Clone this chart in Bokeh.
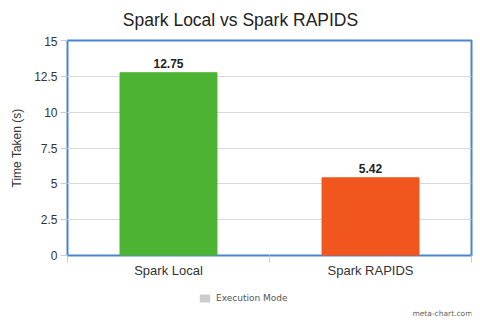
from bokeh.plotting import figure
from bokeh.layouts import column
from bokeh.models import (Range1d, FixedTicker, Legend, LegendItem, Label,
                          ColumnDataSource, LabelSet)
from bokeh.core.properties import value
from bokeh.embed import file_html
from bokeh.resources import INLINE

title_text = "Spark Local vs Spark RAPIDS"
categories = ["Spark Local", "Spark RAPIDS"]
values = [12.75, 5.42]
value_labels = ["12.75", "5.42"]
colors = ["#4db332", "#f0561d"]
y_ticks = [0, 2.5, 5, 7.5, 10, 12.5, 15]
y_tick_labels = ["0", "2.5", "5", "7.5", "10", "12.5", "15"]
series_name = "Execution Mode"
credit = "meta-chart.com"

FONT = "Liberation Sans"

positions = [i + 0.5 for i in range(len(categories))]
src = ColumnDataSource(dict(x=positions, top=values, color=colors, lbl=value_labels))

# header strip with the title (frame aligned with chart frame: 67..471 px)
h = figure(width=480, height=36, output_backend="svg", toolbar_location=None,
           x_range=Range1d(67, 471), y_range=Range1d(0, 36),
           min_border_left=67, min_border_right=9, min_border_top=0,
           min_border_bottom=0, outline_line_color=None)
h.axis.visible = False
h.grid.visible = False
h.add_layout(Label(x=240, y=17, text=title_text, text_align="center",
                   text_baseline="alphabetic", text_font=FONT,
                   text_font_size="17.5px", text_color="#222222"))

p = figure(width=480, height=244, output_backend="svg", toolbar_location=None,
           x_range=Range1d(0, len(categories)), y_range=Range1d(0, 15),
           min_border_left=67, min_border_right=9, min_border_top=4,
           min_border_bottom=24)

p.outline_line_color = "#4a86d0"
p.outline_line_width = 2
p.background_fill_color = "white"
p.border_fill_color = "white"

p.vbar(x="x", top="top", width=0.48, color="color", source=src)

p.add_layout(LabelSet(x="x", y="top", text="lbl", source=src, text_align="center",
                      text_baseline="bottom", y_offset=5,
                      text_font=value(FONT), text_font_size=value("12px"),
                      text_font_style="bold", text_color="#222222"))

# y axis
p.yaxis.ticker = FixedTicker(ticks=y_ticks)
p.yaxis.major_label_overrides = {t: l for t, l in zip(y_ticks, y_tick_labels)}
p.yaxis.axis_line_color = None
p.yaxis.major_tick_line_color = "#cccccc"
p.yaxis.major_tick_out = 7
p.yaxis.major_tick_in = 0
p.yaxis.minor_tick_line_color = None
p.yaxis.major_label_text_font = FONT
p.yaxis.major_label_text_font_size = "12px"
p.yaxis.major_label_text_color = "#333333"
p.yaxis.major_label_standoff = 3
p.yaxis.axis_label = "Time Taken (s)"
p.yaxis.axis_label_text_font = FONT
p.yaxis.axis_label_text_font_size = "12px"
p.yaxis.axis_label_text_font_style = "normal"
p.yaxis.axis_label_text_color = "#333333"
p.yaxis.axis_label_standoff = 7

# x axis
p.xaxis.ticker = FixedTicker(ticks=positions,
                             minor_ticks=list(range(len(categories) + 1)))
p.xaxis.major_label_overrides = {x: c for x, c in zip(positions, categories)}
p.xaxis.axis_line_color = None
p.xaxis.major_tick_line_color = None
p.xaxis.minor_tick_line_color = "#cccccc"
p.xaxis.minor_tick_out = 7
p.xaxis.minor_tick_in = 0
p.xaxis.major_label_text_font = FONT
p.xaxis.major_label_text_font_size = "13px"
p.xaxis.major_label_text_color = "#333333"
p.xaxis.major_label_standoff = 0

p.grid.grid_line_color = None
p.ygrid.grid_line_color = "#d8d8d8"
p.ygrid.ticker = FixedTicker(ticks=y_ticks)

# footer strip: legend and credit (frame aligned with the chart frame: 67..471 px)
f = figure(width=480, height=40, output_backend="svg", toolbar_location=None,
           x_range=Range1d(67, 471), y_range=Range1d(0, 40),
           min_border_left=67, min_border_right=9, min_border_top=0,
           min_border_bottom=0, outline_line_color=None)
f.axis.visible = False
f.grid.visible = False
swatch = f.vbar(x=[0], top=[0], width=1, fill_color="#cccccc", line_color=None)
legend = Legend(items=[LegendItem(label=series_name, renderers=[swatch])],
                location=(131, 17), orientation="horizontal",
                padding=0, margin=0, spacing=0,
                border_line_color=None, background_fill_alpha=0,
                glyph_width=13, glyph_height=10, label_standoff=5,
                label_text_font="DejaVu Sans", label_text_font_size="9px",
                label_text_color="#555555", label_height=10)
f.add_layout(legend, "center")
f.add_layout(Label(x=472, y=7, text=credit, text_align="right",
                   text_baseline="middle", text_font="DejaVu Sans",
                   text_font_size="7.5px", text_color="#666666"))

layout = column(h, p, f, spacing=0)
open("out.html", "w").write(file_html(layout, INLINE))
